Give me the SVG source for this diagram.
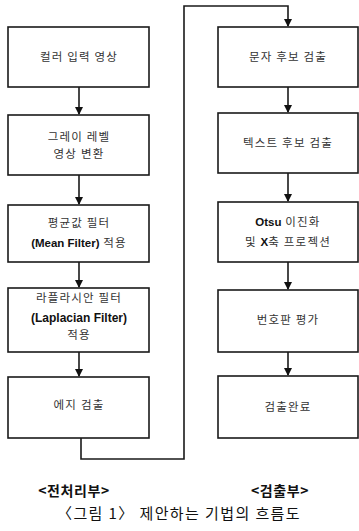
<svg xmlns="http://www.w3.org/2000/svg" width="359" height="531" viewBox="0 0 359 531">
<style>
.box{fill:#fff;stroke:#1a1a1a;stroke-width:1.6}
.t{font-family:"Noto Sans CJK KR","Liberation Sans",sans-serif;font-size:11.5px;letter-spacing:1.2px;fill:#333;text-anchor:middle}
.b{font-family:"Liberation Sans","Noto Sans CJK KR",sans-serif;font-weight:bold;fill:#111;letter-spacing:0}
.lbl{font-family:"Noto Sans CJK KR","Liberation Sans",sans-serif;font-size:14px;font-weight:bold;letter-spacing:0.6px;fill:#111;text-anchor:middle}
.cap{font-family:"Noto Sans CJK KR","Liberation Sans",sans-serif;font-size:15px;letter-spacing:1.4px;fill:#111;text-anchor:middle}
.c{fill:none;stroke:#1a1a1a;stroke-width:1.6}
</style>
<defs>
<marker id="ah" markerWidth="8" markerHeight="8" refX="7" refY="4" orient="auto" markerUnits="userSpaceOnUse">
<path d="M0,0 L8,4 L0,8 Z" fill="#111"/>
</marker>
</defs>
<rect width="359" height="531" fill="#fff"/>
<g id="connectors">
<line class="c" x1="79" y1="87" x2="79" y2="114" marker-end="url(#ah)"/>
<line class="c" x1="79" y1="175" x2="79" y2="204" marker-end="url(#ah)"/>
<line class="c" x1="79" y1="262" x2="79" y2="287" marker-end="url(#ah)"/>
<line class="c" x1="79" y1="352" x2="79" y2="376" marker-end="url(#ah)"/>
<polyline class="c" points="81,438 81,459 184,459 184,6 288,6 288,26" marker-end="url(#ah)"/>
<line class="c" x1="288" y1="87" x2="288" y2="112" marker-end="url(#ah)"/>
<line class="c" x1="288" y1="173" x2="288" y2="201" marker-end="url(#ah)"/>
<line class="c" x1="288" y1="262" x2="288" y2="289" marker-end="url(#ah)"/>
<line class="c" x1="288" y1="352" x2="288" y2="375" marker-end="url(#ah)"/>
</g>
<g id="n1"><rect class="box" x="8" y="27" width="141" height="60"/><text class="t" x="79" y="61">컬러 입력 영상</text></g>
<g id="n2"><rect class="box" x="8" y="115" width="141" height="60"/><text class="t" x="79" y="141">그레이 레벨</text><text class="t" x="79" y="158">영상 변환</text></g>
<g id="n3"><rect class="box" x="8" y="205" width="141" height="57"/><text class="t" x="79" y="227">평균값 필터</text><text class="t" x="79" y="247"><tspan class="b">(Mean Filter)</tspan> 적용</text></g>
<g id="n4"><rect class="box" x="8" y="288" width="141" height="64"/><text class="t" x="79" y="302">라플라시안 필터</text><text class="t" x="79" y="322"><tspan class="b" font-size="12">(Laplacian Filter)</tspan></text><text class="t" x="79" y="339">적용</text></g>
<g id="n5"><rect class="box" x="8" y="377" width="141" height="61"/><text class="t" x="79" y="409">에지 검출</text></g>
<g id="n6"><rect class="box" x="218" y="27" width="140" height="60"/><text class="t" x="288" y="61">문자 후보 검출</text></g>
<g id="n7"><rect class="box" x="218" y="113" width="140" height="60"/><text class="t" x="288" y="147">텍스트 후보 검출</text></g>
<g id="n8"><rect class="box" x="218" y="202" width="140" height="60"/><text class="t" x="288" y="226"><tspan class="b">Otsu</tspan> 이진화</text><text class="t" x="288" y="246">및 <tspan class="b">X</tspan>축 프로젝션</text></g>
<g id="n9"><rect class="box" x="218" y="290" width="140" height="62"/><text class="t" x="288" y="324">번호판 평가</text></g>
<g id="n10"><rect class="box" x="218" y="376" width="140" height="62"/><text class="t" x="288" y="411">검출완료</text></g>
<text class="lbl" x="74" y="496">&lt;전처리부&gt;</text>
<text class="lbl" x="280" y="496">&lt;검출부&gt;</text>
<text class="cap" x="179" y="519">〈그림 1〉 제안하는 기법의 흐름도</text>
</svg>
